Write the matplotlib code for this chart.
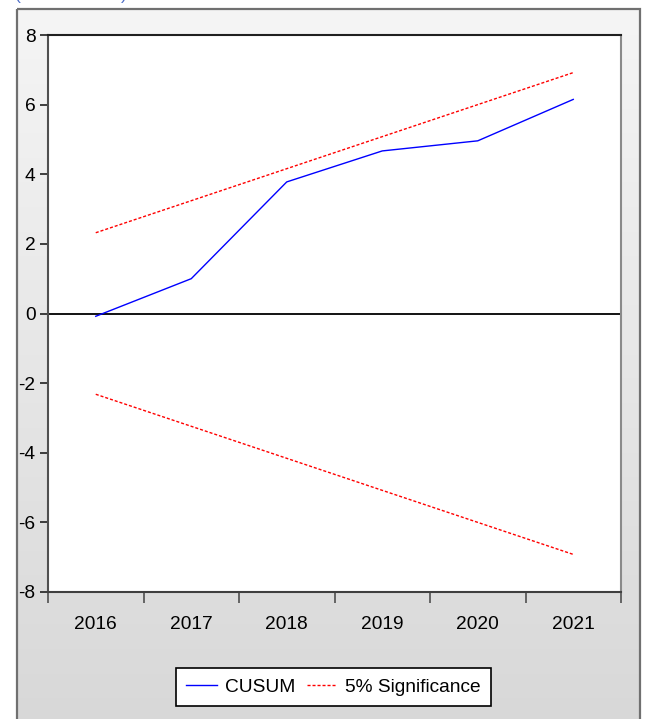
import numpy as np
import matplotlib
matplotlib.use("Agg")
import matplotlib.pyplot as plt
from matplotlib.patches import Rectangle
from matplotlib.lines import Line2D

# CUSUM statistic and 5% significance bounds by year
years = ["2016", "2017", "2018", "2019", "2020", "2021"]
cusum = [-0.08, 1.00, 3.78, 4.67, 4.96, 6.15]
upper_5pct = [2.32, 3.24, 4.16, 5.08, 6.00, 6.92]
lower_5pct = [-2.32, -3.24, -4.16, -5.08, -6.00, -6.92]
y_ticks = [-8, -6, -4, -2, 0, 2, 4, 6, 8]

FONT = ["Liberation Sans", "DejaVu Sans"]
plt.rcParams["font.family"] = FONT
FS = 13.8

W, H = 646, 719
fig = plt.figure(figsize=(W / 100, H / 100), dpi=100)
fig.patch.set_facecolor("white")

# Grey gradient panel behind the chart
bg = fig.add_axes([0, 0, 1, 1], zorder=-10)
bg.set_xlim(0, W)
bg.set_ylim(H, 0)
bg.axis("off")
grad = np.linspace(0, 1, 256).reshape(-1, 1)
bg.imshow(grad, extent=(17, 640, H + 5, 9), cmap=matplotlib.colors.LinearSegmentedColormap.from_list(
    "panel", ["#f5f5f5", "#d8d8d8"]), aspect="auto", zorder=0)
bg.add_patch(Rectangle((17, 9), 623, H, fill=False, edgecolor="#707070", linewidth=1.6, zorder=1))
bg.text(15, 3, "(CUSUM Test)", color="#5070c8", fontsize=12.5, va="bottom", ha="left", zorder=2)

ax = fig.add_axes([48 / W, 1 - 592 / H, (621 - 48) / W, (592 - 35) / H])
ax.set_facecolor("white")

x = np.arange(len(years)) + 0.5
ax.axhline(0, color="black", linewidth=1.3, zorder=1)
ax.plot(x, upper_5pct, color="#ff0000", linewidth=1.0, linestyle=(0, (2.2, 1.4)), zorder=2)
ax.plot(x, lower_5pct, color="#ff0000", linewidth=1.0, linestyle=(0, (2.2, 1.4)), zorder=2)
ax.plot(x, cusum, color="#0000ff", linewidth=1.0, zorder=3)

ax.set_xlim(0, len(years))
ax.set_ylim(-8, 8)

# Category labels centred between boundary ticks
ax.set_xticks(x)
ax.set_xticklabels(years, fontsize=FS)
ax.tick_params(axis="x", which="major", length=0, pad=17)
ax.set_xticks(np.arange(len(years) + 1), minor=True)
ax.tick_params(axis="x", which="minor", length=8, width=1.2, color="#505050", direction="out")

ax.set_yticks(y_ticks)
ax.set_yticklabels([str(v) for v in y_ticks], fontsize=FS)
ax.tick_params(axis="y", length=6, width=1.2, color="#202020", pad=3, direction="out")

for side, col in (("left", "#505050"), ("bottom", "#404040"), ("top", "#202020"), ("right", "#8a8a8a")):
    ax.spines[side].set_color(col)
    ax.spines[side].set_linewidth(1.5)

handles = [
    Line2D([], [], color="#0000ff", linewidth=1.0),
    Line2D([], [], color="#ff0000", linewidth=1.0, linestyle=(0, (2.2, 1.4))),
]
leg = fig.legend(handles, ["CUSUM", "5% Significance"], ncol=2,
                 loc="center", bbox_to_anchor=((195 + 472) / 2 / W, 1 - 687 / H),
                 fontsize=FS, frameon=True, fancybox=False, shadow=False,
                 handlelength=1.6, handletextpad=0.4, columnspacing=0.6,
                 borderpad=0.55, borderaxespad=0)
leg.get_frame().set_edgecolor("black")
leg.get_frame().set_linewidth(1.2)
leg.get_frame().set_facecolor("white")
leg.get_frame().set_alpha(1)

fig.savefig("out.png", dpi=100, facecolor="white")
